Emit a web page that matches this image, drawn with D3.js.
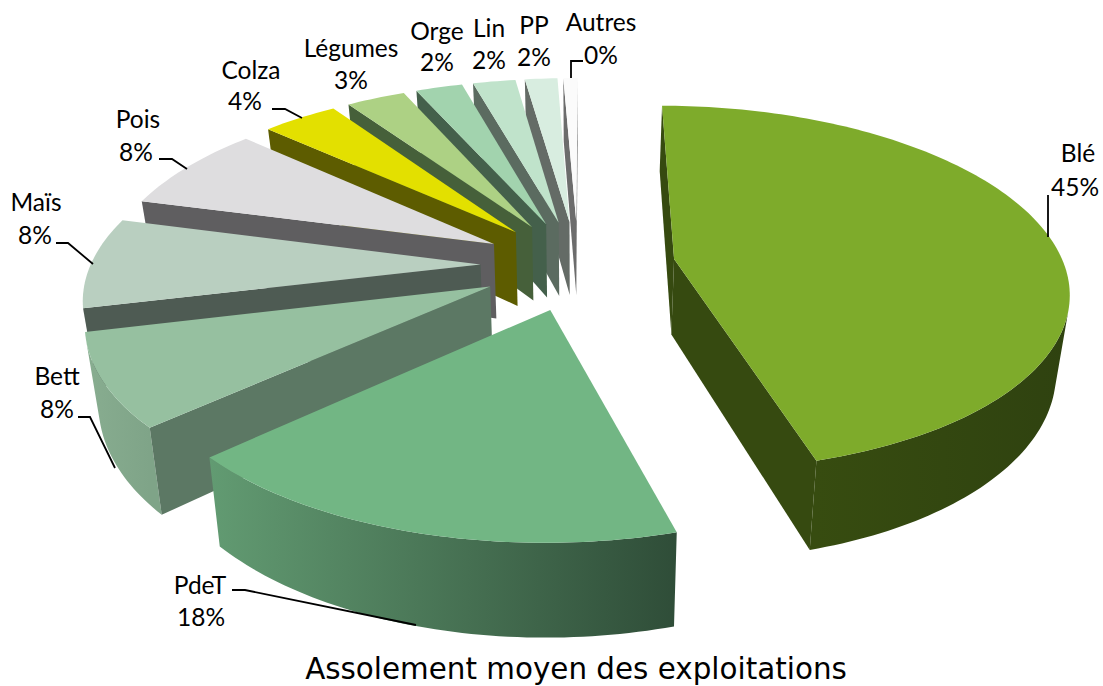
<!DOCTYPE html>
<html><head><meta charset="utf-8">
<script src="https://cdnjs.cloudflare.com/ajax/libs/d3/7.8.5/d3.min.js"></script>
<style>html,body{margin:0;background:#fff}svg{display:block}</style></head>
<body><svg id="c" width="1103" height="686"></svg>
<script>
const categories = ["Blé","PdeT","Bett","Maïs","Pois","Colza","Légumes","Orge","Lin","PP","Autres"];
const values = [45.5,17.6,8.0,7.9,7.6,3.7,2.9,2.3,2.1,1.6,0.7];
const shownLabels = ["45%","18%","8%","8%","8%","4%","3%","2%","2%","2%","0%"];
const topColors = ["#7eab2b","#72b684","#96c0a0","#b9cfc0","#dedddf","#e3e000","#add184","#a2d3ae","#c0e3cb","#d8ede0","#fbfbfb"];
const wallColors = ["#364a10","#3f6a4c","#5c7864","#4e5b53","#5f5e60","#5d5c00","#46603a","#44604b","#5b6b60","#646b66","#6c6c6c"];
const outerLeft = ["#374c10","#629b72","#88ad90","#88a08f","#8a8a8b","#7c7a00","#6d8a50","#6a8e74","#85a08e","#98a89e","#aaaaaa"];
const outerRight = ["#2f4210","#2f4d38","#7fa488","#88a08f","#8a8a8b","#7c7a00","#6d8a50","#6a8e74","#85a08e","#98a89e","#aaaaaa"];

const title = "Assolement moyen des exploitations";
// label layout: [line-1 x, line-1 y, line-2 x, line-2 y]
const labelPos = [[1078,153,1075,187],[200,585,201,617],[57,376,57,409],[36,202,35,235],[138,119,136,152],[251,70,245,101],[351,48,351,80],[437,31,437,62],[489,28,489,60],[534,25,534,57],[601,22,601,55]];
const leaders = [[[1048,195],[1048,237]],[[232,590],[245,590],[416,625]],[[78,417],[90,417],[115,468]],[[56,243],[68,243],[93,264]],[[159,159],[172,159],[187,169]],[[272,109],[285,109],[302,118]],[],[],[],[],[[583,61],[571,61],[571,78]]];

const cx=578, cy=265, R=390, Ry=179.5, explode=0.25, persp=0.16, depth=76, floorScale=0.972, rot=0.2*Math.PI/180;

const svg=d3.select("#c");
const defs=svg.append("defs");
const pie=d3.pie().sort(null).startAngle(rot).endAngle(rot+2*Math.PI)(values);

function proj(nx,ny,bottom){
  const s=1/(1-persp*ny);
  let x=R*nx*s, y=Ry*ny*s;
  if(bottom){x*=floorScale; y+=depth*s;}
  return [cx+x,cy+y];
}
const cross=(a,b,c)=>(b[0]-a[0])*(c[1]-b[1])-(b[1]-a[1])*(c[0]-b[0]);
const line=d3.line();
const slices=pie.map((d,i)=>{
  const mid=(d.startAngle+d.endAngle)/2;
  return {i,d,ox:explode*Math.sin(mid),oy:-explode*Math.cos(mid)};
}).sort((a,b)=>a.oy-b.oy);

for(const sl of slices){
  const {i,d,ox,oy}=sl;
  const n=Math.max(4,Math.ceil((d.endAngle-d.startAngle)/0.02));
  const angles=d3.range(n+1).map(k=>d.startAngle+(d.endAngle-d.startAngle)*k/n);
  const rim=b=>angles.map(a=>proj(ox+Math.sin(a),oy-Math.cos(a),b));
  const apexT=proj(ox,oy,false), apexB=proj(ox,oy,true);
  const rimT=rim(false), rimB=rim(true);
  const g=svg.append("g").attr("class","slice");
  // outer wall: only the part that faces the viewer
  const vis=d3.range(n).filter(k=>cross(rimT[k],rimT[k+1],rimB[k+1])<0);
  if(vis.length){
    const k0=d3.min(vis), k1=d3.max(vis)+1;
    const top=rimT.slice(k0,k1+1), bot=rimB.slice(k0,k1+1).reverse();
    const gid="o"+i;
    const grad=defs.append("linearGradient").attr("id",gid).attr("gradientUnits","userSpaceOnUse")
      .attr("x1",d3.min(top,p=>p[0])).attr("x2",d3.max(top,p=>p[0])).attr("y1",0).attr("y2",0);
    grad.append("stop").attr("offset",0).attr("stop-color",outerLeft[i]);
    grad.append("stop").attr("offset",1).attr("stop-color",outerRight[i]);
    g.append("path").attr("d",line(top.concat(bot))+"Z").attr("fill",`url(#${gid})`);
  }
  // radial walls, when facing the viewer
  if(cross(apexT,rimT[0],rimB[0])<0)
    g.append("path").attr("d",line([apexT,rimT[0],rimB[0],apexB])+"Z").attr("fill",wallColors[i]);
  if(cross(apexT,rimT[n],rimB[n])>0)
    g.append("path").attr("d",line([apexT,rimT[n],rimB[n],apexB])+"Z").attr("fill",wallColors[i]);
  // top
  g.append("path").attr("d",line([apexT].concat(rimT))+"Z").attr("fill",topColors[i]);
}

const font="Lato, Carlito, sans-serif";
leaders.forEach(l=>{ if(l.length) svg.append("path").attr("d",line(l)).attr("fill","none").attr("stroke","#000").attr("stroke-width",1.8);});
categories.forEach((c,i)=>{
  const p=labelPos[i];
  svg.append("text").attr("x",p[0]).attr("y",p[1]).attr("dy",".35em").attr("text-anchor","middle")
    .attr("font-family",font).attr("font-size",24.5).attr("fill","#000").text(c);
  svg.append("text").attr("x",p[2]).attr("y",p[3]).attr("dy",".35em").attr("text-anchor","middle")
    .attr("font-family",font).attr("font-size",24.5).attr("fill","#000").text(shownLabels[i]);
});
svg.append("text").attr("x",576).attr("y",679).attr("text-anchor","middle")
  .attr("font-family","DejaVu Sans").attr("font-size",29.4).attr("fill","#000").text(title);
</script></body></html>
